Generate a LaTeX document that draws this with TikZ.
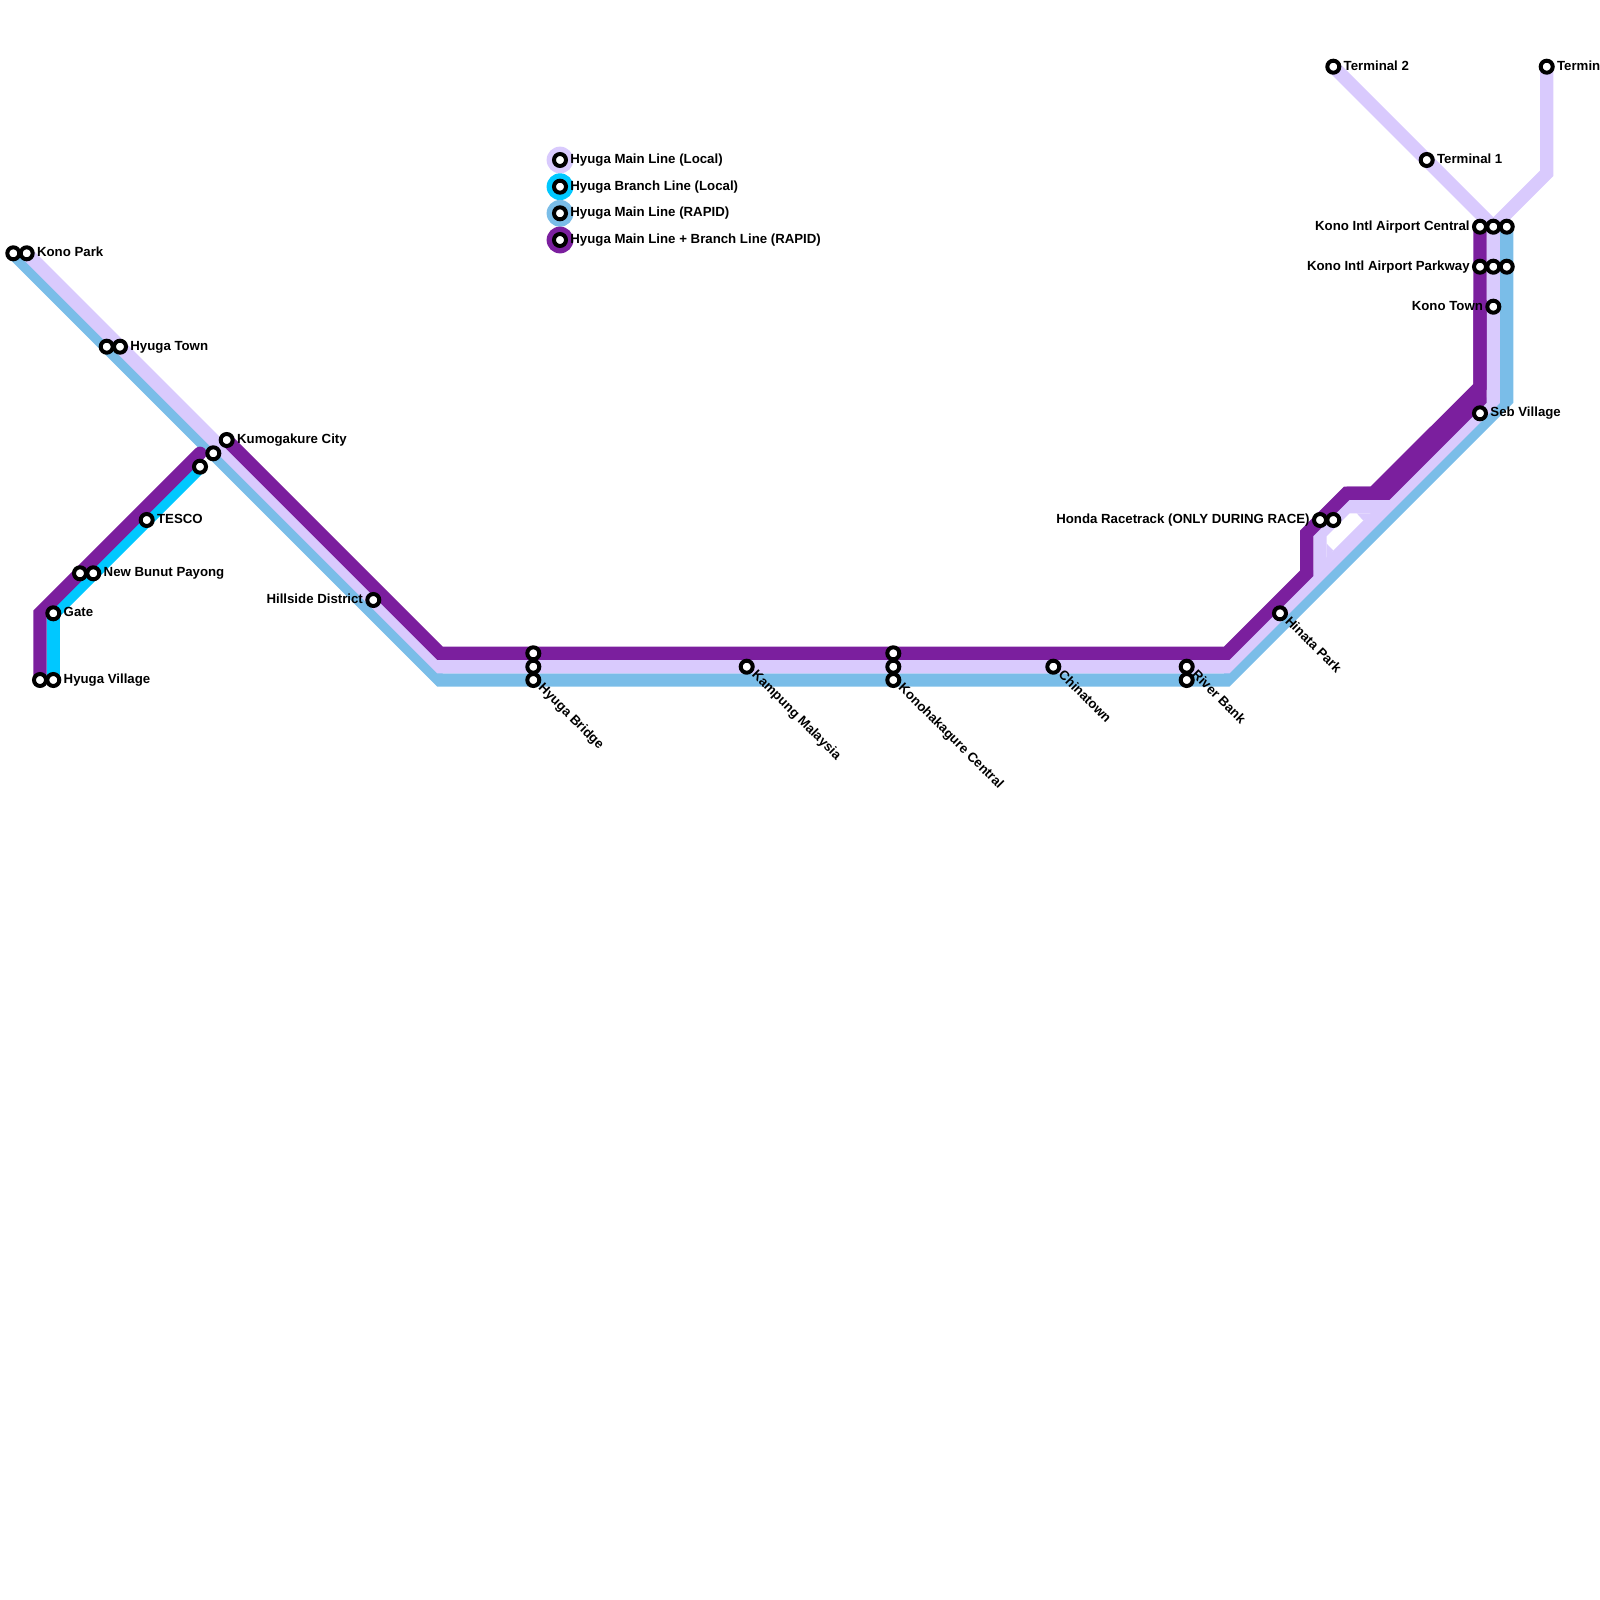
\documentclass[tikz,border=0pt]{standalone}
\usepackage{fontspec}
\setmainfont{Liberation Sans}
\definecolor{lav}{HTML}{D9CAFD}
\definecolor{rapid}{HTML}{7ABDE8}
\definecolor{branch}{HTML}{00C8FF}
\definecolor{both}{HTML}{7B1F9E}
\tikzset{
 x=0.5pt,y=-0.5pt,
 route/.style={line width=6.67pt,line join=miter,line cap=butt},
 stn/.style={circle,draw=black,fill=white,line width=2pt,minimum size=6pt,inner sep=0pt},
 lab/.style={font=\fontsize{6.62pt}{7pt}\selectfont\bfseries,inner sep=0pt,text=black,text height=5pt,text depth=1.4pt},
 rt/.style={lab,anchor=west,xshift=5pt},
 lf/.style={lab,anchor=east,xshift=-5pt},
 dg/.style={lab,anchor=west,rotate=-45,xshift=4.6pt,yshift=0.3pt},
 legdot/.style={circle,inner sep=0pt,minimum size=13.4pt},
}
\newcommand{\stnode}[3]{\node[stn] (#1) at (#2,#3) {};}
\begin{document}
\begin{tikzpicture}
\useasboundingbox (0,0) rectangle (1600,1600);
% routes
\draw[route,rapid] (13.3,253.3) -- (440,680) -- (1226.7,680) -- (1506.7,400) -- (1506.7,226.7);
\draw[route,lav] (26.7,253.3) -- (440,666.7) -- (1226.7,666.7) -- (1493.3,400) -- (1493.3,226.7);
\draw[route,lav] (1333.3,66.7) -- (1493.3,226.7) -- (1546.7,173.3) -- (1546.7,66.7);
\draw[route,lav] (1320,573.3) -- (1320,533.3) -- (1346.7,506.7) -- (1386.7,506.7);
\fill[lav] (1326.7,543.7) -- (1333.3,550.4) -- (1326.7,560) -- cycle;
\fill[lav] (1356.7,513.3) -- (1363.3,520.6) -- (1372,513.3) -- cycle;
\draw[route,branch] (53.3,680) -- (53.3,613.3) -- (200,466.7);
\draw[route,both,line cap=round] (200,453.3) -- (40,613.3) -- (40,680);
\draw[route,both] (226.7,440) -- (440,653.3) -- (1226.7,653.3) -- (1306.7,573.3) -- (1306.7,533.3) -- (1346.7,493.3) -- (1386.7,493.3) -- (1480,400) -- (1480,226.7);
\draw[route,both] (1346.7,493.3) -- (1373.3,493.3) -- (1480,386.7) -- (1480,300);
% legend
\node[legdot,fill=lav] (l1) at (560,160) {};
\node[legdot,fill=branch] (l2) at (560,186.7) {};
\node[legdot,fill=rapid] (l3) at (560,213.3) {};
\node[legdot,fill=both] (l4) at (560,240) {};
\stnode{s1}{560}{160}\stnode{s2}{560}{186.7}\stnode{s3}{560}{213.3}\stnode{s4}{560}{240}
\node[lab,anchor=west] (t1) at (570,160) {Hyuga Main Line (Local)};
\node[lab,anchor=west] (t2) at (570,186.7) {Hyuga Branch Line (Local)};
\node[lab,anchor=west] (t3) at (570,213.3) {Hyuga Main Line (RAPID)};
\node[lab,anchor=west] (t4) at (570,240) {Hyuga Main Line + Branch Line (RAPID)};
% stations
\stnode{kp1}{13.3}{253.3}\stnode{kp2}{26.7}{253.3}
\stnode{ht1}{106.7}{346.7}\stnode{ht2}{120}{346.7}
\stnode{kc1}{226.7}{440}\stnode{kc2}{213.3}{453.3}\stnode{kc3}{200}{466.7}
\stnode{te}{146.7}{520}
\stnode{nb1}{80}{573.3}\stnode{nb2}{93.3}{573.3}
\stnode{ga}{53.3}{613.3}
\stnode{hv1}{40}{680}\stnode{hv2}{53.3}{680}
\stnode{hd}{373.3}{600}
\stnode{hb1}{533.3}{653.3}\stnode{hb2}{533.3}{666.7}\stnode{hb3}{533.3}{680}
\stnode{km}{746.7}{666.7}
\stnode{kh1}{893.3}{653.3}\stnode{kh2}{893.3}{666.7}\stnode{kh3}{893.3}{680}
\stnode{ct}{1053.3}{666.7}
\stnode{rb1}{1186.7}{666.7}\stnode{rb2}{1186.7}{680}
\stnode{hp}{1280}{613.3}
\stnode{hr1}{1320}{520}\stnode{hr2}{1333.3}{520}
\stnode{sv}{1480}{413.3}
\stnode{kt}{1493.3}{306.7}
\stnode{pw1}{1480}{266.7}\stnode{pw2}{1493.3}{266.7}\stnode{pw3}{1506.7}{266.7}
\stnode{ac1}{1480}{226.7}\stnode{ac2}{1493.3}{226.7}\stnode{ac3}{1506.7}{226.7}
\stnode{t1s}{1426.7}{160}
\stnode{t2s}{1333.3}{66.7}
\stnode{t3s}{1546.7}{66.7}
% labels
\node[rt] (lkp) at (kp2) {Kono Park};
\node[rt] (lht) at (ht2) {Hyuga Town};
\node[rt] (lkc) at (kc1) {Kumogakure City};
\node[rt] (lte) at (te) {TESCO};
\node[rt] (lnb) at (nb2) {New Bunut Payong};
\node[rt] (lga) at (ga) {Gate};
\node[rt] (lhv) at (hv2) {Hyuga Village};
\node[lf] (lhd) at (hd) {Hillside District};
\node[dg] (lhb) at (hb3) {Hyuga Bridge};
\node[dg] (lkm) at (km) {Kampung Malaysia};
\node[dg] (lkh) at (kh3) {Konohakagure Central};
\node[dg] (lct) at (ct) {Chinatown};
\node[dg] (lrb) at (rb1) {River Bank};
\node[dg] (lhp) at (hp) {Hinata Park};
\node[lf] (lhr) at (hr1) {Honda Racetrack (ONLY DURING RACE)};
\node[rt] (lsv) at (sv) {Seb Village};
\node[lf] (lkt) at (kt) {Kono Town};
\node[lf] (lpw) at (pw1) {Kono Intl Airport Parkway};
\node[lf] (lac) at (ac1) {Kono Intl Airport Central};
\node[rt] (lt1) at (t1s) {Terminal 1};
\node[rt] (lt2) at (t2s) {Terminal 2};
\node[rt] (lt3) at (t3s) {Termin};
\end{tikzpicture}
\end{document}
